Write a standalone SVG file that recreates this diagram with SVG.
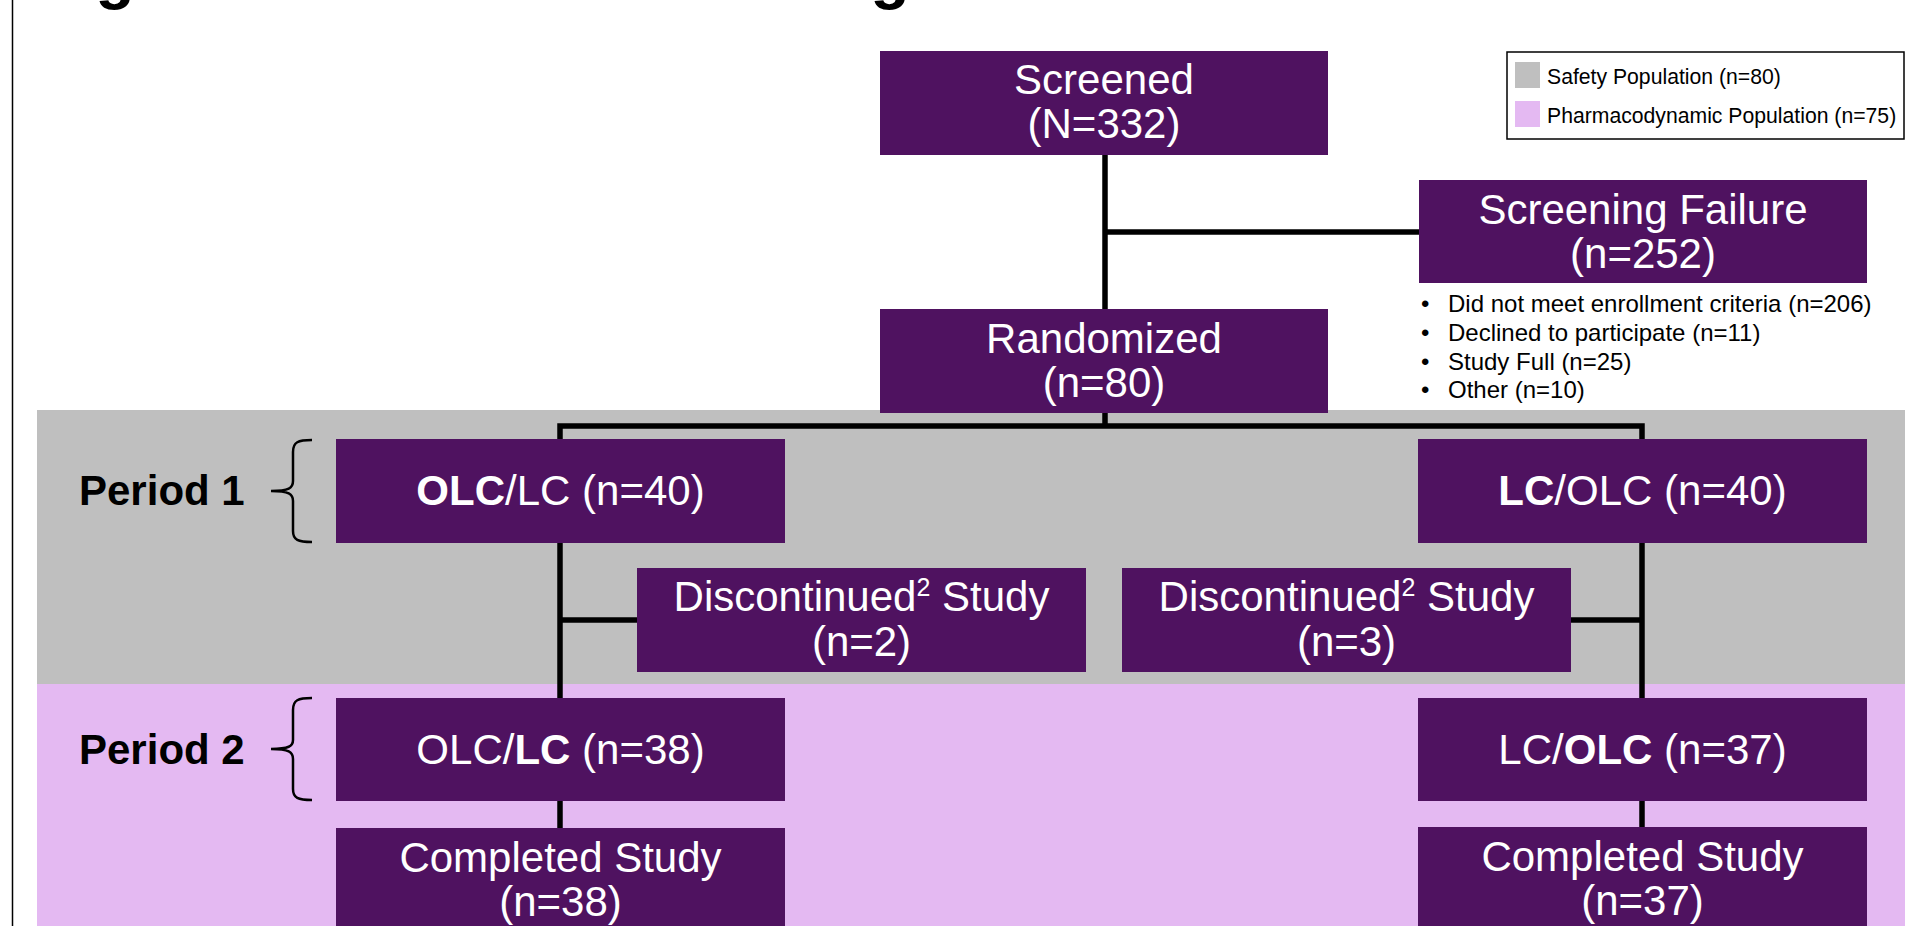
<svg xmlns="http://www.w3.org/2000/svg" width="1912" height="926" viewBox="0 0 1912 926">
<style>
.box{fill:#4F1260}
.t{font-family:"Liberation Sans",Arial,sans-serif;fill:#fff;font-size:42px;text-anchor:middle}
.b{font-weight:bold}
.conn{stroke:#000;stroke-width:5.5;fill:none}
.brace{stroke:#000;stroke-width:2.5;fill:none}
.lbl{font-family:"Liberation Sans",Arial,sans-serif;font-weight:bold;font-size:42px;fill:#000}
.sm{font-family:"Liberation Sans",Arial,sans-serif;font-size:24px;fill:#000}
.lg{font-family:"Liberation Sans",Arial,sans-serif;font-size:21.2px;fill:#000}
</style>
<rect width="1912" height="926" fill="#fff"/>
<line x1="12.5" y1="0" x2="12.5" y2="926" stroke="#000" stroke-width="1.5"/>
<text x="115" y="-3" class="lbl" style="font-size:64px" text-anchor="middle">g</text>
<text x="890" y="-3" class="lbl" style="font-size:64px" text-anchor="middle">g</text>
<g id="bands">
<rect x="37" y="410" width="1868" height="274" fill="#BFBFBF"/>
<rect x="37" y="684" width="1868" height="242" fill="#E4B9F2"/>
</g>
<g id="legend">
<rect x="1507" y="52" width="397" height="87" fill="#fff" stroke="#000" stroke-width="1.5"/>
<rect x="1515" y="62" width="25" height="26" fill="#BFBFBF"/>
<rect x="1515" y="101" width="25" height="26" fill="#E4B9F2"/>
<text x="1547" y="84" class="lg">Safety Population (n=80)</text>
<text x="1547" y="123" class="lg">Pharmacodynamic Population (n=75)</text>
</g>
<g id="connectors">
<path class="conn" d="M1105,155 V413"/>
<path class="conn" d="M1105,232 H1419"/>
<path class="conn" d="M1105,413 V426"/>
<path class="conn" d="M560,439 V426 H1642 V439"/>
<path class="conn" d="M560,543 V828"/>
<path class="conn" d="M1642,543 V828"/>
<path class="conn" d="M560,620 H637"/>
<path class="conn" d="M1642,620 H1571"/>
</g>
<g id="period1">
<path class="brace" d="M312,440 C298,440 293,442 293,452 L293,481 C293,488 289,491 271,491 C289,491 293,494 293,501 L293,531 C293,540 298,542 312,542"/>
<text x="79" y="505" class="lbl">Period 1</text>
</g>
<g id="period2">
<path class="brace" d="M312,698 C298,698 293,700 293,710 L293,740 C293,746 289,749 271,749 C289,749 293,752 293,759 L293,789 C293,798 298,800 312,800"/>
<text x="79" y="764" class="lbl">Period 2</text>
</g>
<g id="screened">
<rect class="box" x="880" y="51" width="448" height="104"/>
<text class="t" x="1104" y="94">Screened</text>
<text class="t" x="1104" y="138">(N=332)</text>
</g>
<g id="screening-failure">
<rect class="box" x="1419" y="180" width="448" height="103"/>
<text class="t" x="1643" y="224">Screening Failure</text>
<text class="t" x="1643" y="268">(n=252)</text>
<text class="sm" x="1421" y="312">•</text>
<text class="sm" x="1448" y="312">Did not meet enrollment criteria (n=206)</text>
<text class="sm" x="1421" y="341">•</text>
<text class="sm" x="1448" y="341">Declined to participate (n=11)</text>
<text class="sm" x="1421" y="370">•</text>
<text class="sm" x="1448" y="370">Study Full (n=25)</text>
<text class="sm" x="1421" y="398">•</text>
<text class="sm" x="1448" y="398">Other (n=10)</text>
</g>
<g id="randomized">
<rect class="box" x="880" y="309" width="448" height="104"/>
<text class="t" x="1104" y="353">Randomized</text>
<text class="t" x="1104" y="397">(n=80)</text>
</g>
<g id="olc-lc-p1">
<rect class="box" x="336" y="439" width="449" height="104"/>
<text class="t" x="560.5" y="505"><tspan class="b">OLC</tspan>/LC (n=40)</text>
</g>
<g id="lc-olc-p1">
<rect class="box" x="1418" y="439" width="449" height="104"/>
<text class="t" x="1642.5" y="505"><tspan class="b">LC</tspan>/OLC (n=40)</text>
</g>
<g id="disc-left">
<rect class="box" x="637" y="568" width="449" height="104"/>
<text class="t" x="861.5" y="611">Discontinued<tspan font-size="25" dy="-15">2</tspan><tspan dy="15"> Study</tspan></text>
<text class="t" x="861.5" y="656">(n=2)</text>
</g>
<g id="disc-right">
<rect class="box" x="1122" y="568" width="449" height="104"/>
<text class="t" x="1346.5" y="611">Discontinued<tspan font-size="25" dy="-15">2</tspan><tspan dy="15"> Study</tspan></text>
<text class="t" x="1346.5" y="656">(n=3)</text>
</g>
<g id="olc-lc-p2">
<rect class="box" x="336" y="698" width="449" height="103"/>
<text class="t" x="560.5" y="764">OLC/<tspan class="b">LC</tspan> (n=38)</text>
</g>
<g id="lc-olc-p2">
<rect class="box" x="1418" y="698" width="449" height="103"/>
<text class="t" x="1642.5" y="764">LC/<tspan class="b">OLC</tspan> (n=37)</text>
</g>
<g id="completed-left">
<rect class="box" x="336" y="828" width="449" height="110"/>
<text class="t" x="560.5" y="872">Completed Study</text>
<text class="t" x="560.5" y="916">(n=38)</text>
</g>
<g id="completed-right">
<rect class="box" x="1418" y="827" width="449" height="110"/>
<text class="t" x="1642.5" y="871">Completed Study</text>
<text class="t" x="1642.5" y="915">(n=37)</text>
</g>
</svg>
